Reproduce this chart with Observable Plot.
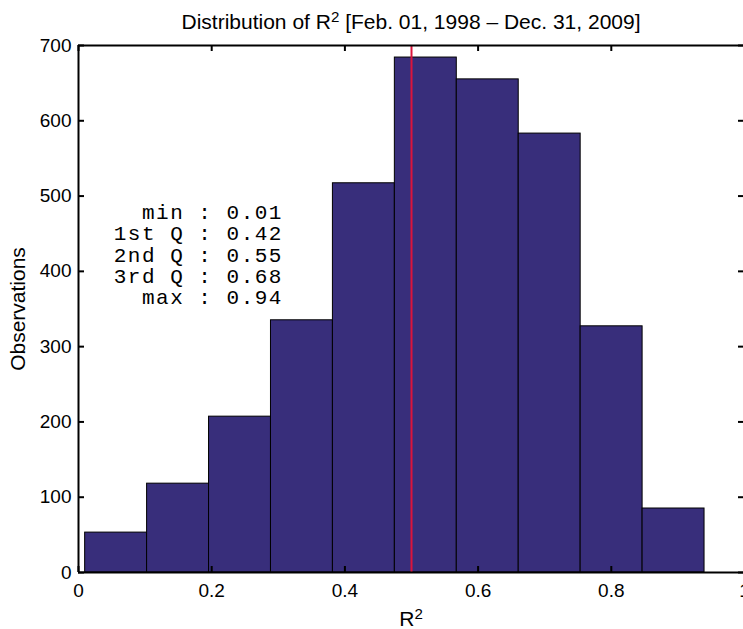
<!DOCTYPE html>
<html>
<head>
<meta charset="utf-8">
<script src="https://cdn.jsdelivr.net/npm/d3@7"></script>
<script src="https://cdn.jsdelivr.net/npm/@observablehq/plot@0.6"></script>
<style>
  html, body { margin: 0; padding: 0; background: #fff; }
</style>
</head>
<body>
<div id="chart"></div>
<script>
// ---- data ----
const binEdges = [0.01, 0.103, 0.196, 0.289, 0.382, 0.475, 0.568, 0.661, 0.754, 0.847, 0.94];
const counts = [53, 118, 207, 335, 517, 684, 655, 583, 327, 85];
const xTicks = [0, 0.2, 0.4, 0.6, 0.8, 1];
const yTicks = [0, 100, 200, 300, 400, 500, 600, 700];
const statLabels = ["min", "1st Q", "2nd Q", "3rd Q", "max"];
const statValues = ["0.01", "0.42", "0.55", "0.68", "0.94"];
const markerLine = [0.5];
const titleText = "Distribution of R\u00B2 [Feb. 01, 1998 \u2013 Dec. 31, 2009]";
const xLabel = "R\u00B2";
const yLabel = "Observations";

const bins = counts.map((c, i) => ({x1: binEdges[i], x2: binEdges[i + 1], count: c}));
const statText = statLabels.map((l, i) => `${l} : ${statValues[i]}`).join("\n");

const font = "'Liberation Sans', Arial, Helvetica, sans-serif";

const chart = Plot.plot({
  width: 743,
  height: 629,
  marginLeft: 78,
  marginRight: 0,
  marginTop: 45,
  marginBottom: 57,
  style: {fontFamily: font, fontSize: "18px", background: "white", color: "black"},
  x: {domain: [0, 1], range: [78, 744], axis: null},
  y: {domain: [0, 700], range: [572, 45], axis: null},
  marks: [
    Plot.rectY(bins, {x1: "x1", x2: "x2", y: "count", fill: "#382e7b", stroke: "black", strokeWidth: 1}),
    Plot.ruleX(markerLine, {y1: 0, y2: 700, stroke: "#dc143c", strokeWidth: 2}),
    // frame lines
    Plot.ruleY([0, 700], {x1: 0, x2: 1, stroke: "black", strokeWidth: 2}),
    Plot.ruleX([0, 1], {y1: 0, y2: 700, stroke: "black", strokeWidth: 2}),
    // inward ticks
    Plot.ruleX(xTicks, {y1: 0, y2: 8, stroke: "black", strokeWidth: 2}),
    Plot.ruleX(xTicks, {y1: 692, y2: 700, stroke: "black", strokeWidth: 2}),
    Plot.ruleY(yTicks, {x1: 0, x2: 0.009, stroke: "black", strokeWidth: 2}),
    Plot.ruleY(yTicks, {x1: 0.991, x2: 1, stroke: "black", strokeWidth: 2}),
    // tick labels
    Plot.axisX({ticks: xTicks, tickSize: 0, tickPadding: 11, fontSize: 19, label: null, tickFormat: d => String(d)}),
    Plot.axisY({ticks: yTicks, tickSize: 0, tickPadding: 7, fontSize: 19, label: null, tickFormat: d => String(d)}),
    // stats annotation
    Plot.text([statText], {x: 0.307, y: 422, textAnchor: "end", lineAnchor: "middle", lineHeight: 1.02,
      fontFamily: "'Liberation Mono', 'Courier New', monospace", fontSize: 21, fill: "black"}),
    // title and axis labels
    Plot.text([titleText], {frameAnchor: "top", dy: -17, lineAnchor: "bottom", fontSize: 21, fill: "black"}),
    Plot.text([xLabel], {frameAnchor: "bottom", dy: 53, lineAnchor: "bottom", fontSize: 21, fill: "black"}),
    Plot.text([yLabel], {frameAnchor: "left", dx: -60, rotate: -90, textAnchor: "middle", fontSize: 21, fill: "black"})
  ]
});

// letter spacing for the monospace annotation
d3.select(chart).selectAll("g").filter(function() {
  return (this.getAttribute("font-family") || "").includes("Mono");
}).style("letter-spacing", "1.5px");

// render "²" as a real raised superscript like the reference
d3.select(chart).selectAll("text").each(function() {
  const t = this;
  if (t.childElementCount > 0) return;
  const s = t.textContent;
  const i = s.indexOf("\u00B2");
  if (i < 0) return;
  const before = s.slice(0, i), after = s.slice(i + 1);
  t.textContent = "";
  const sel = d3.select(t);
  sel.append("tspan").text(before);
  sel.append("tspan").attr("dy", "-0.45em").attr("font-size", "0.72em").text("2");
  if (after.length) sel.append("tspan").attr("dy", "0.324em").text(after);
});

document.getElementById("chart").appendChild(chart);
</script>
</body>
</html>
